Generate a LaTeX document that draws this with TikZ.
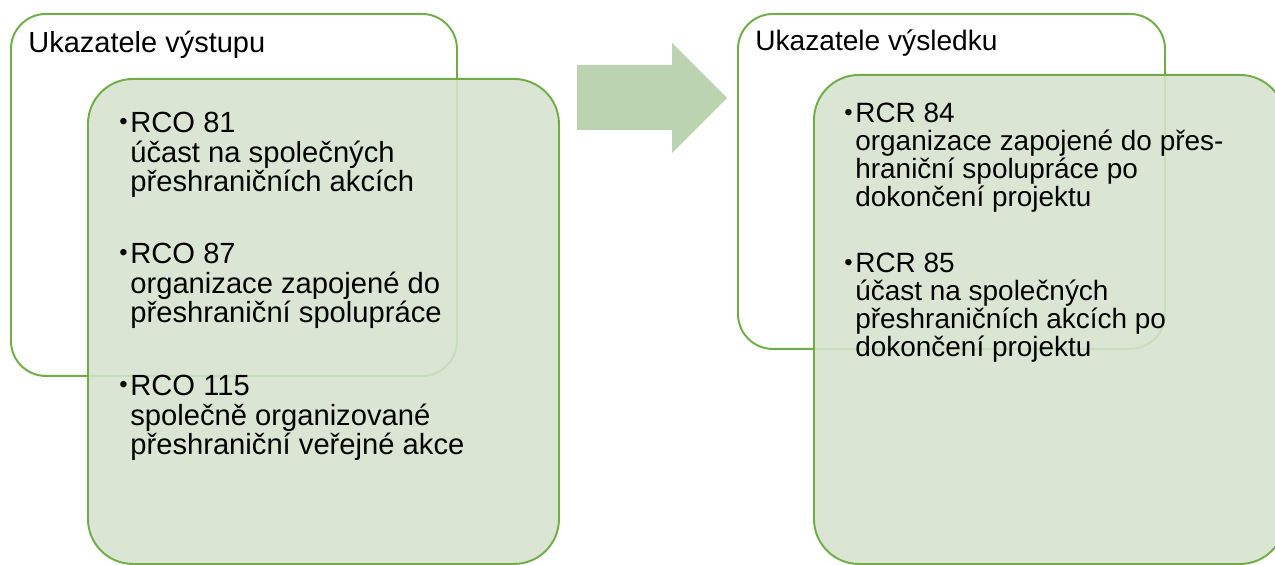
\documentclass[tikz,border=0pt]{standalone}
\usepackage{fontspec}
\setmainfont{Liberation Sans}
\definecolor{boxline}{HTML}{70AD47}
\definecolor{boxfill}{HTML}{D6E3CD}
\definecolor{arrowfill}{HTML}{BBD3B0}
\tikzset{
  outerbox/.style={draw=boxline, line width=1.1pt, rounded corners=0.7cm,
    anchor=north west, inner sep=0pt},
  innerbox/.style={draw=boxline, line width=1.1pt, rounded corners=0.9cm,
    fill=boxfill, fill opacity=0.88, anchor=north west, inner sep=0pt},
  title/.style={anchor=base west, inner sep=0pt},
  % base of a multi-line item is the baseline of its last line
  item/.style={anchor=base west, inner sep=0pt, align=left},
}
\newcommand{\bul}{\llap{\raisebox{1.3pt}{\fontsize{13.5}{13.5}\selectfont\textbullet}\hspace{1.5pt}}}
\begin{document}
\begin{tikzpicture}
  \clip (0,0) rectangle (25.5,-11.3);
  \fill[white] (0,0) rectangle (25.5,-11.3);
  % left: outputs
  \node[outerbox, minimum width=8.92cm, minimum height=7.24cm] (outL) at (0.20,-0.26) {};
  \node[title, font=\fontsize{16.5}{19}\selectfont] (titleL) at (0.56,-1.06) {Ukazatele výstupu};
  \node[innerbox, minimum width=9.42cm, minimum height=9.70cm] (inL) at (1.74,-1.56) {};
  \node[item, font=\fontsize{16.6}{17}\selectfont] (rco81) at (2.60,-3.84)
    {\bul RCO 81\\účast na společných\\přeshraničních akcích};
  \node[item, font=\fontsize{16.6}{17}\selectfont] (rco87) at (2.60,-6.46)
    {\bul RCO 87\\organizace zapojené do\\přeshraniční spolupráce};
  \node[item, font=\fontsize{16.6}{17}\selectfont] (rco115) at (2.60,-9.10)
    {\bul RCO 115\\společně organizované\\přeshraniční veřejné akce};
  % arrow
  \fill[arrowfill] (11.54,-1.30) -- (13.44,-1.30) -- (13.44,-0.86) -- (14.54,-1.96)
    -- (13.44,-3.06) -- (13.44,-2.60) -- (11.54,-2.60) -- cycle;
  % right: results
  \node[outerbox, minimum width=8.54cm, minimum height=6.70cm] (outR) at (14.74,-0.26) {};
  \node[title, font=\fontsize{16}{19}\selectfont] (titleR) at (15.10,-1.02) {Ukazatele výsledku};
  \node[innerbox, minimum width=9.42cm, minimum height=9.78cm] (inR) at (16.26,-1.48) {};
  \node[item, font=\fontsize{15.9}{16}\selectfont] (rcr84) at (17.10,-4.14)
    {\bul RCR 84\\organizace zapojené do přes-\\hraniční spolupráce po\\dokončení projektu};
  \node[item, font=\fontsize{15.9}{16}\selectfont] (rcr85) at (17.10,-7.14)
    {\bul RCR 85\\účast na společných\\přeshraničních akcích po\\dokončení projektu};
\end{tikzpicture}
\end{document}
